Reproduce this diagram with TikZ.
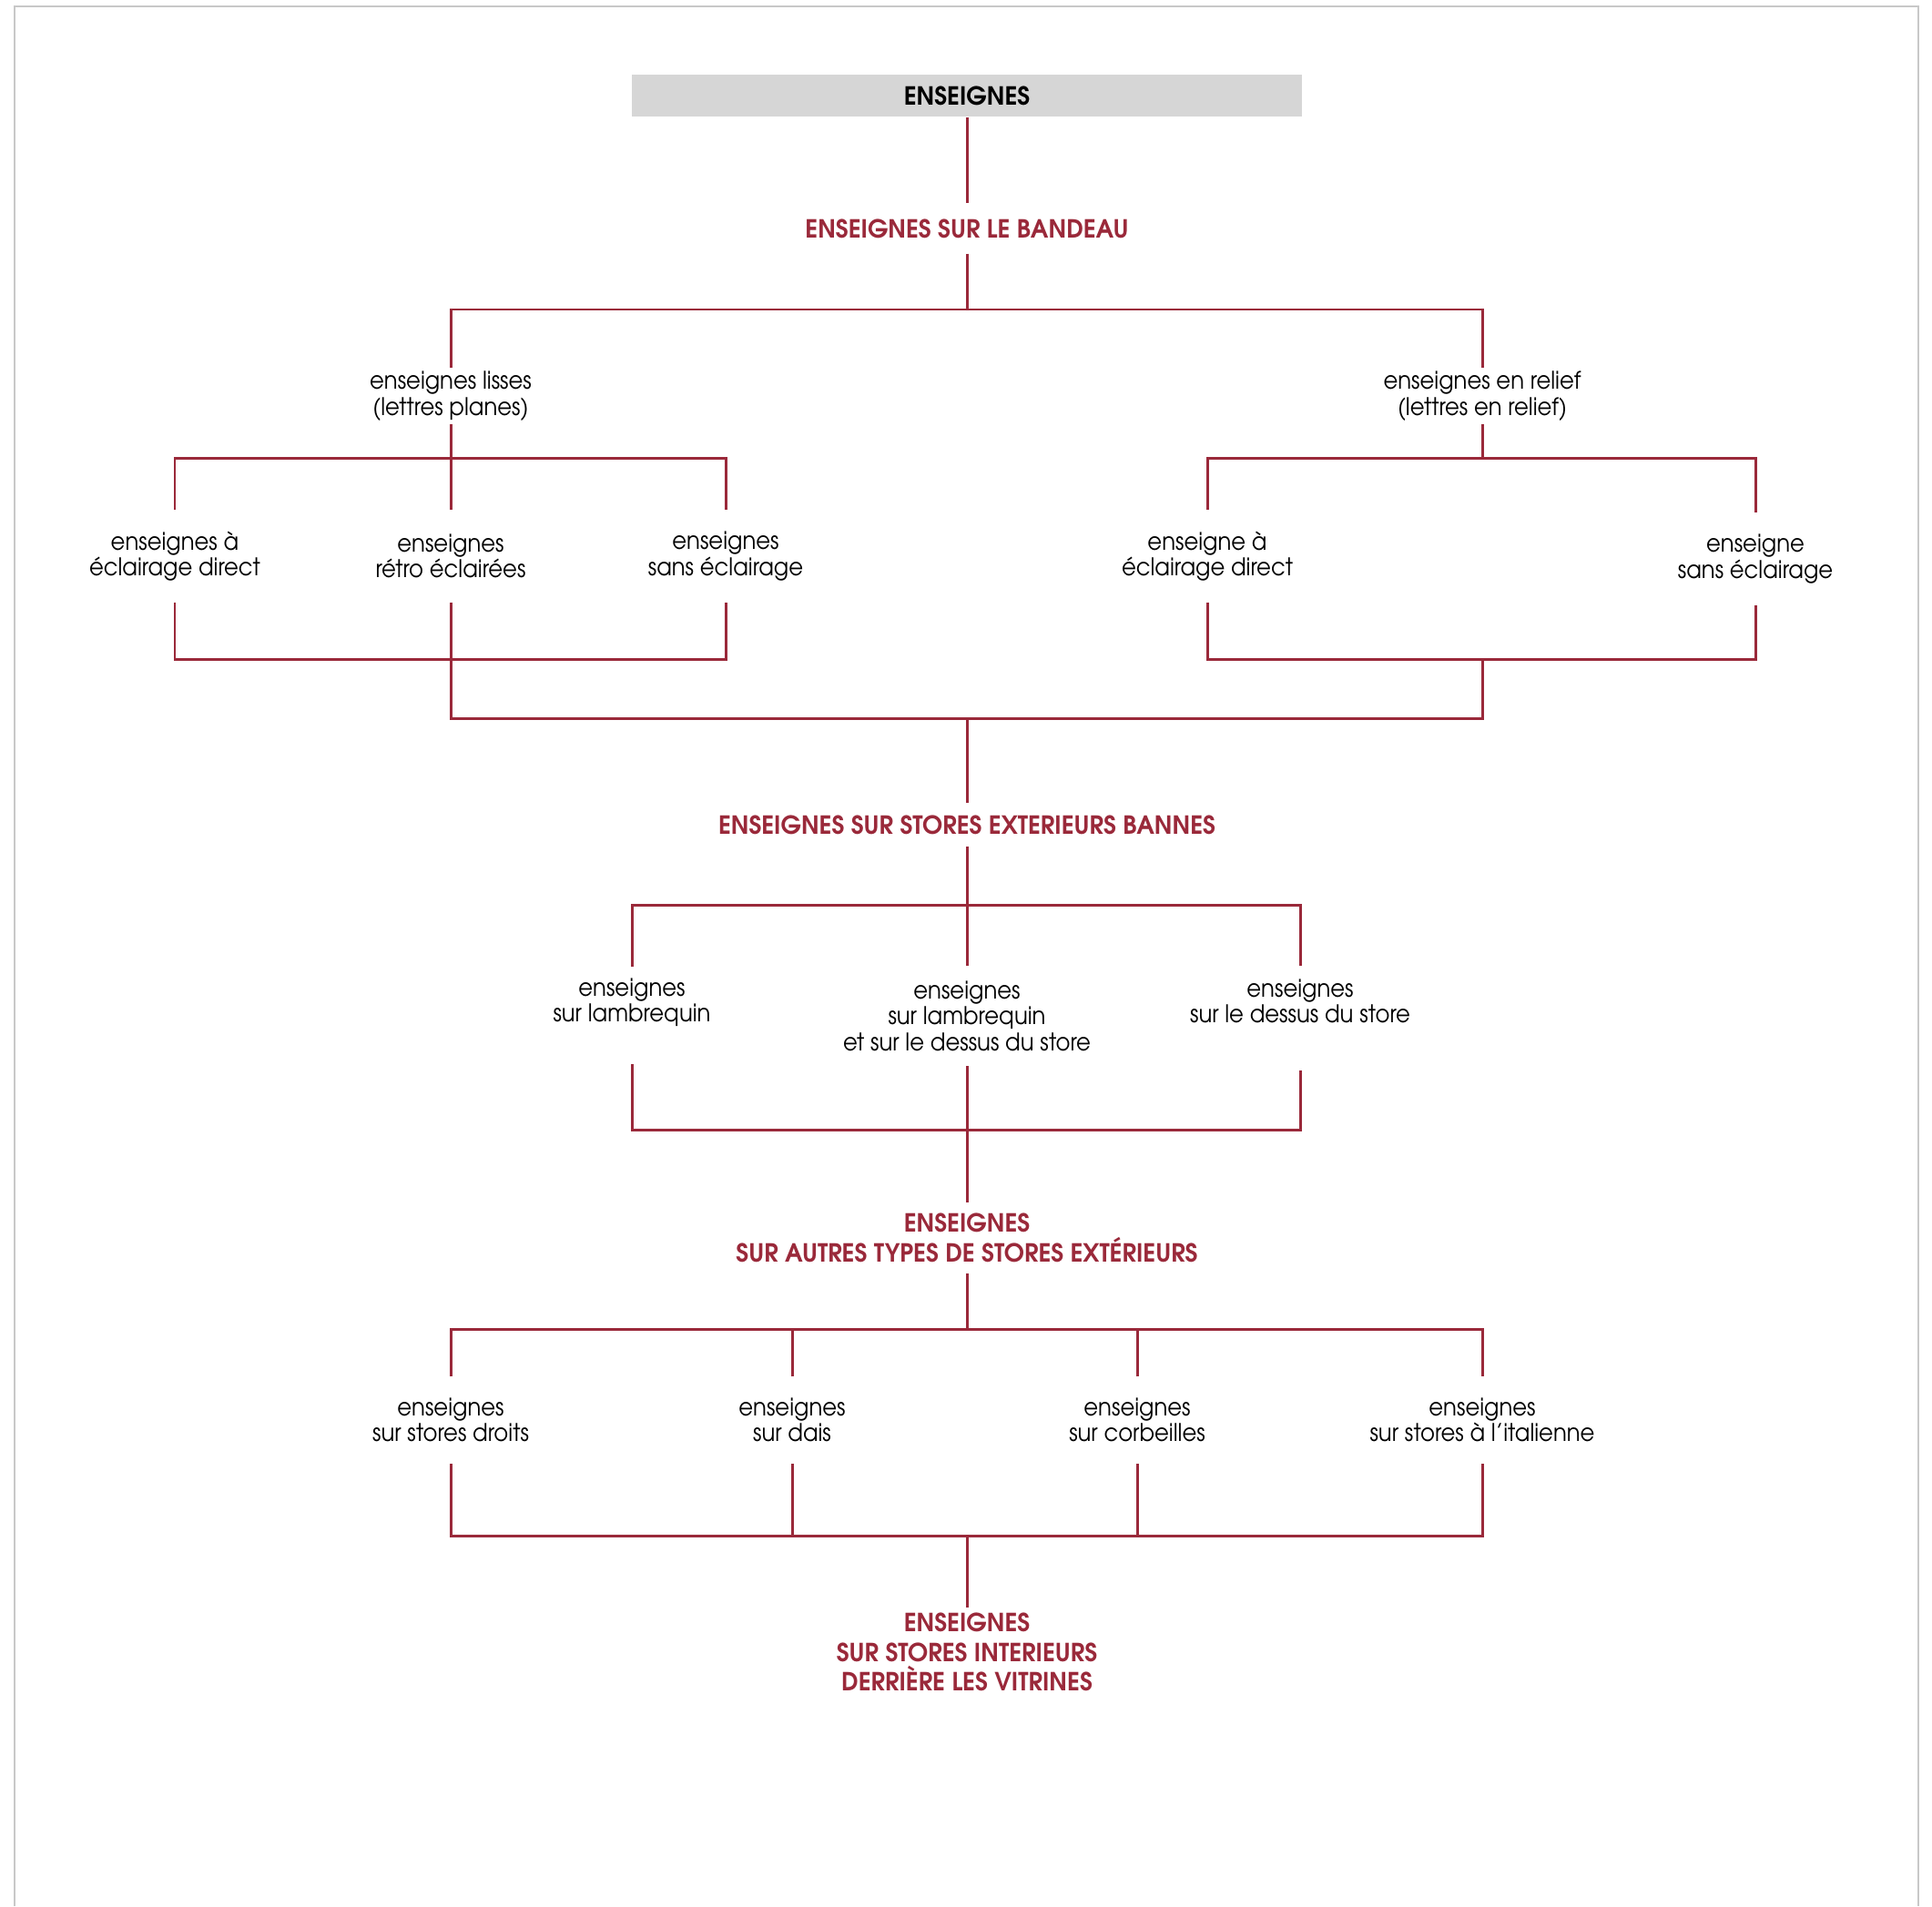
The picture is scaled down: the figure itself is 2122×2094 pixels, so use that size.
\documentclass[tikz,border=0pt]{standalone}
\usepackage{fontspec}
\usepackage{tikz}

\newfontfamily\headfont{texgyreadventor-bold.otf}[FakeStretch=0.97]
\newfontfamily\bodyfont{texgyreadventor-regular.otf}[FakeStretch=0.91]

\definecolor{signred}{RGB}{154,41,58}
\definecolor{boxgray}{RGB}{214,214,214}
\definecolor{framegray}{RGB}{200,200,200}

\begin{document}
\begin{tikzpicture}[x=0.01cm, y=-0.01cm,
    link/.style={draw=signred, line width=0.85pt},
    rootbox/.style={fill=boxgray, minimum width=7.35cm, minimum height=0.46cm,
      inner sep=0pt, font=\headfont\fontsize{7.8pt}{9.25pt}\selectfont},
    head/.style={text=signred, align=center, inner sep=0pt,
      font=\headfont\fontsize{7.8pt}{9.25pt}\selectfont},
    leaf/.style={align=center, inner sep=0pt,
      font=\bodyfont\fontsize{7.6pt}{8.1pt}\selectfont}]
    \useasboundingbox (0, 0) rectangle (2122, 2094);
    \draw [framegray, line width=0.6pt] (16, 2094) |- (2107, 7) -- (2107, 2094);

    \node [rootbox] (root) at (1062, 105) {ENSEIGNES};
    \node [head, minimum height=0.54cm] (bandeau) at (1062, 251) {ENSEIGNES SUR LE BANDEAU};

    \node [leaf, minimum height=0.60cm] (lisses) at (495, 435) {enseignes lisses\\(lettres planes)};
    \node [leaf, minimum height=0.60cm] (relief) at (1628, 435) {enseignes en relief\\(lettres en relief)};

    \node [leaf, minimum height=1.0cm] (directL) at (192, 611) {enseignes à\\éclairage direct};
    \node [leaf, minimum height=1.0cm] (retro) at (495, 611) {enseignes\\rétro éclairées};
    \node [leaf, minimum height=1.0cm] (sansL) at (797, 611) {enseignes\\sans éclairage};
    \node [leaf, minimum height=1.0cm] (directR) at (1326, 611) {enseigne à\\éclairage direct};
    \node [leaf, minimum height=1.0cm] (sansR) at (1928, 614) {enseigne\\sans éclairage};

    \node [head, minimum height=0.46cm] (bannes) at (1062, 906) {ENSEIGNES SUR STORES EXTERIEURS BANNES};

    \node [leaf, minimum height=0.76cm] (lambr) at (694, 1101) {enseignes\\sur lambrequin};
    \node [leaf, minimum height=1.09cm] (lambrdessus) at (1062, 1116) {enseignes\\sur lambrequin\\et sur le dessus du store};
    \node [leaf, minimum height=0.76cm] (dessus) at (1428, 1100) {enseignes\\sur le dessus du store};

    \node [head, minimum height=0.77cm] (autres) at (1062, 1360) {ENSEIGNES\\SUR AUTRES TYPES DE STORES EXTÉRIEURS};

    \node [leaf, minimum height=0.94cm] (droits) at (495, 1560) {enseignes\\sur stores droits};
    \node [leaf, minimum height=0.94cm] (dais) at (870, 1560) {enseignes\\sur dais};
    \node [leaf, minimum height=0.94cm] (corb) at (1249, 1560) {enseignes\\sur corbeilles};
    \node [leaf, minimum height=0.94cm] (ital) at (1628, 1560) {enseignes\\sur stores à l’italienne};

    \node [head, minimum height=0.96cm] (interieurs) at (1062, 1815) {ENSEIGNES\\SUR STORES INTERIEURS\\DERRIÈRE LES VITRINES};

    \coordinate (jA) at (1062, 340);
    \coordinate (jB) at (495, 503);
    \coordinate (jC) at (1628, 503);
    \coordinate (jD) at (495, 724);
    \coordinate (jE) at (1628, 724);
    \coordinate (jF) at (1062, 789);
    \coordinate (jG) at (1062, 994);
    \coordinate (jH) at (1062, 1241);
    \coordinate (jI) at (1062, 1460);
    \coordinate (jJ) at (1062, 1687);

    \draw [link] (root) -- (bandeau);
    \draw [link] (bandeau) -- (jA);
    \draw [link] (lisses) |- (jA) -| (relief);
    \draw [link] (lisses) -- (jB);
    \draw [link] (directL) |- (jB) -| (sansL);
    \draw [link] (retro) -- (jB);
    \draw [link] (relief) -- (jC);
    \draw [link] (directR) |- (jC) -| (sansR);
    \draw [link] (directL) |- (jD) -| (sansL);
    \draw [link] (directR) |- (jE) -| (sansR);
    \draw [link] (retro) |- (jF) -| (jE);
    \draw [link] (jF) -- (bannes);
    \draw [link] (bannes) -- (jG);
    \draw [link] (lambr) |- (jG) -| (dessus);
    \draw [link] (lambrdessus) -- (jG);
    \draw [link, shorten <=0.29cm, shorten >=0.37cm] (lambr) |- (jH) -| (dessus);
    \draw [link] (lambrdessus) -- (jH) -- (autres);
    \draw [link] (autres) -- (jI);
    \draw [link] (droits) |- (jI) -| (ital);
    \draw [link] (dais) -- (dais |- jI);
    \draw [link] (corb) -- (corb |- jI);
    \draw [link] (droits) |- (jJ) -| (ital);
    \draw [link] (dais) -- (dais |- jJ);
    \draw [link] (corb) -- (corb |- jJ);
    \draw [link] (jJ) -- (interieurs);
\end{tikzpicture}
\end{document}
